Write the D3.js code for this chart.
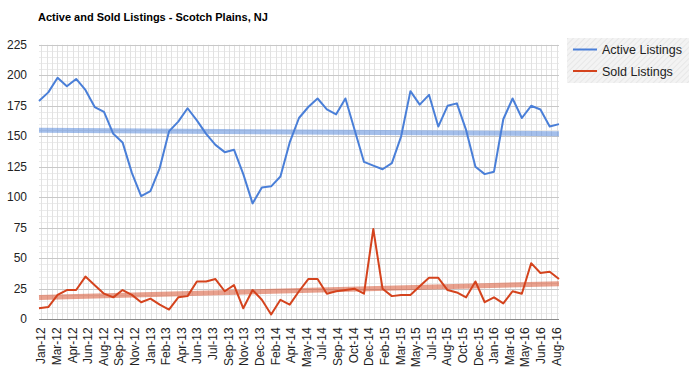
<!DOCTYPE html>
<html><head><meta charset="utf-8">
<script src="https://cdn.jsdelivr.net/npm/d3@7"></script>
<style>body{margin:0;background:#fff}svg{display:block;font-family:"Liberation Sans",Arial,sans-serif}</style>
</head><body><svg id="c" width="689" height="381"></svg>
<script>
const months = [];
const monthNames = ["Jan","Feb","Mar","Apr","May","Jun","Jul","Aug","Sep","Oct","Nov","Dec"];
for (let y = 12; y <= 16; y++) for (let m = 0; m < 12; m++) { if (y === 16 && m > 8) break; months.push(monthNames[m] + "-" + y); }
const activeListings = [179,186,198,191,197,188,174,170,152,145,120,101,105,124,154,162,173,163,152,143,137,139,119,95,108,109,117,145,165,174,181,172,168,181,155,129,126,123,128,150,187,176,184,158,175,177,155,125,119,121,164,181,165,175,172,158,160];
const soldListings = [9,10,20,24,24,35,28,21,18,24,20,14,17,12,8,18,19,31,31,33,23,28,9,24,16,4,16,12,23,33,33,21,23,24,25,21,74,25,19,20,20,27,34,34,24,22,18,31,14,18,13,23,21,46,38,39,33];
const tickLabels = ["Jan-12","Mar-12","Apr-12","Jun-12","Aug-12","Sep-12","Nov-12","Jan-13","Feb-13","Apr-13","Jun-13","Jul-13","Sep-13","Nov-13","Dec-13","Feb-14","Apr-14","May-14","Jul-14","Sep-14","Oct-14","Dec-14","Feb-15","Mar-15","May-15","Jul-15","Aug-15","Oct-15","Dec-15","Jan-16","Mar-16","May-16","Jun-16","Aug-16"];
const yTicks = [0,25,50,75,100,125,150,175,200,225];
const seriesNames = ["Active Listings","Sold Listings"];
const colors = ["#4a7fd8","#d4431d"];

const svg = d3.select("#c");
const L = 39, R = 559, T = 44.8, B = 319.3;
const x = d3.scaleLinear().domain([0, months.length - 1]).range([L, R]);
const y = d3.scaleLinear().domain([0, 225]).range([B, T]);

const t0 = 0.25, t1 = 55.75;
const tickPos = tickLabels.map((d, i) => t0 + i * (t1 - t0) / (tickLabels.length - 1));

const g = svg.append("g");
const minorY = d3.range(0, 226, 5).filter(v => v % 25 !== 0);
g.selectAll("line.my").data(minorY).join("line")
  .attr("x1", L).attr("x2", R).attr("y1", d => Math.round(y(d)) + 0.5).attr("y2", d => Math.round(y(d)) + 0.5)
  .attr("stroke", "#ebebeb");
const minorX = [];
const step = (t1 - t0) / (tickLabels.length - 1);
for (let v = t0 - step; v <= 56.01; v += step / 3) { if (v >= 0 && v <= 56) minorX.push(v); }
g.selectAll("line.mx").data(minorX).join("line")
  .attr("x1", d => Math.round(x(d)) + 0.5).attr("x2", d => Math.round(x(d)) + 0.5).attr("y1", T).attr("y2", B)
  .attr("stroke", "#e2e2e2");
g.selectAll("line.gy").data(yTicks).join("line")
  .attr("x1", L).attr("x2", R).attr("y1", d => Math.round(y(d)) + 0.5).attr("y2", d => Math.round(y(d)) + 0.5)
  .attr("stroke", d => d === 0 ? "#8a8a8a" : "#c8c8c8");

svg.append("g").selectAll("text").data(yTicks).join("text")
  .attr("x", 27).attr("y", d => y(d) + 4).attr("text-anchor", "end")
  .attr("font-size", 12).attr("fill", "#222").text(d => d);

svg.append("g").selectAll("text").data(tickLabels).join("text")
  .attr("transform", (d, i) => `translate(${x(tickPos[i]) + 4},${B + 8}) rotate(-90)`)
  .attr("text-anchor", "end").attr("font-size", 12).attr("fill", "#222").text(d => d);

function regress(vals) {
  const n = vals.length, xs = d3.range(n);
  const mx = d3.mean(xs), my = d3.mean(vals);
  let num = 0, den = 0;
  xs.forEach((xi, i) => { num += (xi - mx) * (vals[i] - my); den += (xi - mx) * (xi - mx); });
  const b = num / den, a = my - b * mx;
  return [[0, a], [n - 1, a + b * (n - 1)]];
}
const allSeries = [activeListings, soldListings];
const line = d3.line().x(d => x(d[0])).y(d => y(d[1]));
allSeries.forEach((s, i) => {
  svg.append("path").attr("d", line(regress(s))).attr("fill", "none")
    .attr("stroke", colors[i]).attr("stroke-opacity", 0.5).attr("stroke-width", 5);
});
allSeries.forEach((s, i) => {
  svg.append("path").attr("d", line(s.map((v, j) => [j, v]))).attr("fill", "none")
    .attr("stroke", colors[i]).attr("stroke-width", 2).attr("stroke-linejoin", "round");
});

svg.append("text").attr("x", 38).attr("y", 20.5).attr("font-size", 11).attr("font-weight", "bold")
  .attr("fill", "#000").text("Active and Sold Listings - Scotch Plains, NJ");

const defs = svg.append("defs");
const pat = defs.append("pattern").attr("id", "hatch").attr("width", 4).attr("height", 4)
  .attr("patternUnits", "userSpaceOnUse").attr("patternTransform", "rotate(45)");
pat.append("rect").attr("width", 4).attr("height", 4).attr("fill", "#f3f3f3");
pat.append("line").attr("x1", 0).attr("y1", 0).attr("x2", 0).attr("y2", 4).attr("stroke", "#e4e4e4").attr("stroke-width", 1.5);
const lg = svg.append("g");
lg.append("rect").attr("x", 567).attr("y", 38).attr("width", 122).attr("height", 45).attr("fill", "url(#hatch)");
seriesNames.forEach((n, i) => {
  const yy = 49.5 + i * 21.5;
  lg.append("line").attr("x1", 573).attr("x2", 597).attr("y1", yy).attr("y2", yy).attr("stroke", colors[i]).attr("stroke-width", 2);
  lg.append("text").attr("x", 602).attr("y", yy + 4.5).attr("font-size", 12.5).attr("fill", "#222").text(n);
});
</script></body></html>
